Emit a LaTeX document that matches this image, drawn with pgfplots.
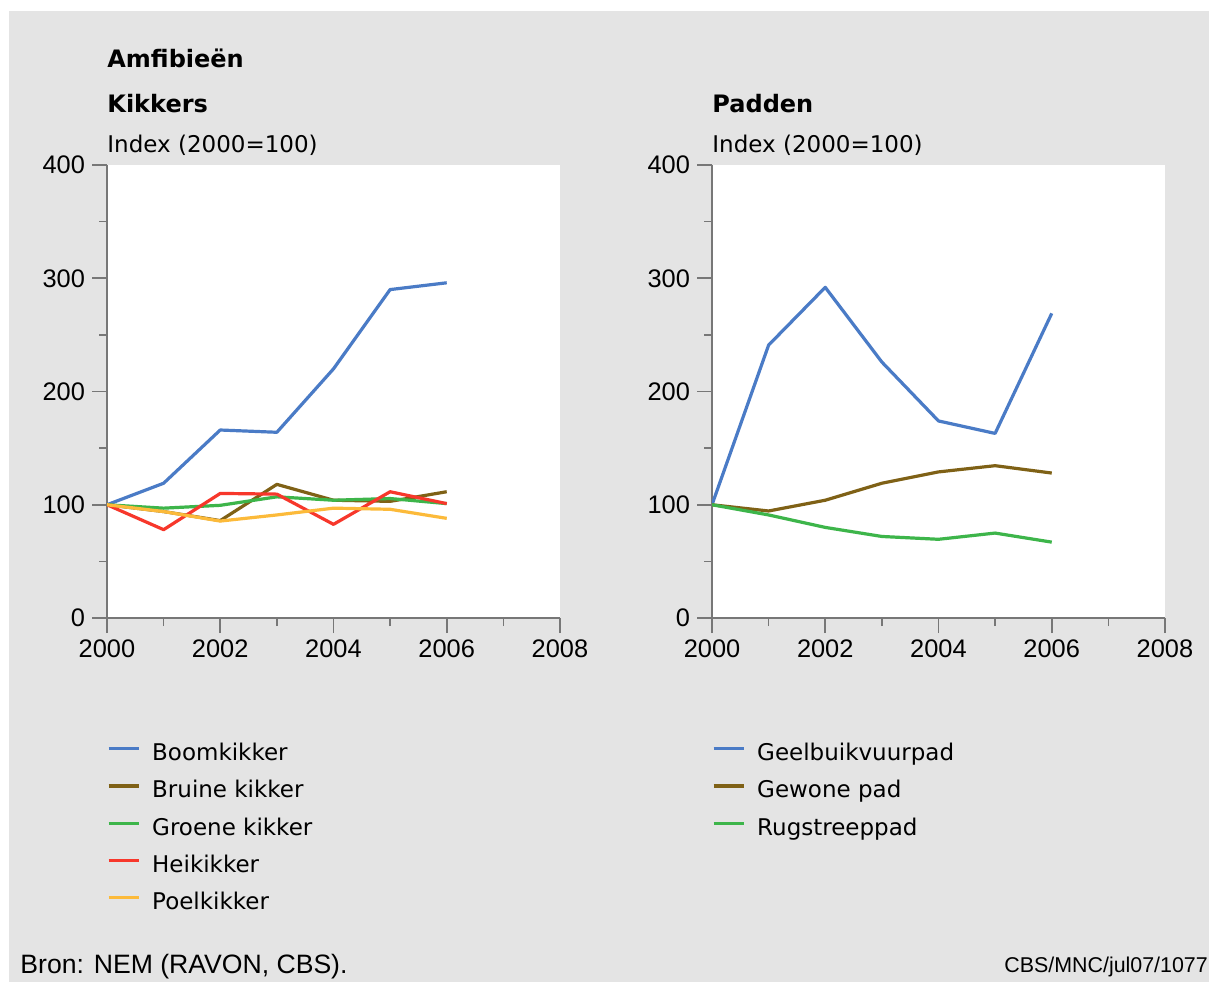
\documentclass[border=0pt]{standalone}
\usepackage{fontspec}
\setmainfont{DejaVu Sans}
\newfontfamily\tickfont{Liberation Sans}
\usepackage{pgfplots}
\pgfplotsset{compat=1.18}
\definecolor{bggray}{HTML}{E4E4E4}
\definecolor{axgray}{HTML}{777777}
\definecolor{cblue}{HTML}{4A7BC6}
\definecolor{cbrown}{HTML}{7F6116}
\definecolor{cgreen}{HTML}{3DB54A}
\definecolor{cred}{HTML}{F7372B}
\definecolor{corange}{HTML}{FCBA3A}
\pgfplotsset{
  amf/.style={
    scale only axis, width=226.5pt, height=226.5pt,
    xmin=2000, xmax=2008, ymin=0, ymax=400,
    xtick={2000,2002,...,2008}, minor xtick={2001,2003,2005,2007},
    ytick={0,100,...,400}, minor ytick={50,150,250,350},
    axis x line*=bottom, axis y line*=left,
    x axis line style={-, draw=axgray, line width=0.8pt},
    y axis line style={-, draw=axgray, line width=0.8pt},
    axis background/.style={fill=white},
    tick align=outside, major tick length=7.5pt, minor tick length=4pt,
    every tick/.style={draw=axgray, line width=0.8pt},
    tick label style={font=\fontsize{12.7}{14}\tickfont},
    /pgf/number format/1000 sep={},
    /pgf/number format/assume math mode=true,
    legend style={draw=none, fill=none, inner sep=0pt, outer sep=0pt,
      font=\fontsize{11.5}{18.9}\selectfont, nodes={inner sep=0pt},
      row sep=3.9pt, column sep=6pt, cells={anchor=west},
      at={(0,-0.2561)}, anchor=north west},
    legend image code/.code={\draw[#1] (0pt,0pt) -- (15pt,0pt);},
    every axis plot/.append style={line width=1.6pt, line join=round},
  }
}
\begin{document}
\begin{tikzpicture}[x=1pt,y=1pt]
\path[use as bounding box] (0,0) rectangle (604.5,491);
\fill[white] (0,0) rectangle (604.5,491);
\fill[bggray] (4.5,0) rectangle (604.5,485.5);

\node[anchor=base west, inner sep=0pt, font=\fontsize{12}{14}\selectfont\bfseries] at (53.5,457) {Amfibieën};
\node[anchor=base west, inner sep=0pt, font=\fontsize{12}{14}\selectfont\bfseries] at (53.5,434.5) {Kikkers};
\node[anchor=base west, inner sep=0pt, font=\fontsize{11.5}{14}\selectfont] at (53.5,414.5) {Index (2000=100)};
\node[anchor=base west, inner sep=0pt, font=\fontsize{12}{14}\selectfont\bfseries] at (356,434.5) {Padden};
\node[anchor=base west, inner sep=0pt, font=\fontsize{11.5}{14}\selectfont] at (356,414.5) {Index (2000=100)};
\node[anchor=base west, inner sep=0pt, font=\fontsize{13.3}{15}\tickfont] at (10,4.5) {Bron: NEM (RAVON, CBS).};
\node[anchor=base west, inner sep=0pt, font=\fontsize{10.7}{12}\tickfont] at (502,5) {CBS/MNC/jul07/1077};

\begin{axis}[amf, at={(53.5pt,182pt)}, anchor=south west]
\addplot[cblue] coordinates {(2000,100) (2001,119) (2002,166) (2003,164) (2004,220) (2005,290) (2006,296)};
\addlegendentry{\strut Boomkikker}
\addplot[cbrown] coordinates {(2000,100) (2001,94) (2002,86) (2003,118) (2004,104) (2005,103) (2006,111.5)};
\addlegendentry{\strut Bruine kikker}
\addplot[cgreen] coordinates {(2000,100) (2001,97) (2002,99.5) (2003,107) (2004,104) (2005,105.5) (2006,101)};
\addlegendentry{\strut Groene kikker}
\addplot[cred] coordinates {(2000,100) (2001,78) (2002,110) (2003,109.4) (2004,82.7) (2005,111.5) (2006,101)};
\addlegendentry{\strut Heikikker}
\addplot[corange] coordinates {(2000,100) (2001,94) (2002,85.6) (2003,91) (2004,97) (2005,96) (2006,88)};
\addlegendentry{\strut Poelkikker}
\end{axis}

\begin{axis}[amf, at={(356pt,182pt)}, anchor=south west]
\addplot[cblue] coordinates {(2000,100) (2001,241) (2002,292) (2003,226) (2004,174) (2005,163) (2006,269)};
\addlegendentry{\strut Geelbuikvuurpad}
\addplot[cbrown] coordinates {(2000,100) (2001,94.5) (2002,104) (2003,119) (2004,129) (2005,134.5) (2006,128)};
\addlegendentry{\strut Gewone pad}
\addplot[cgreen] coordinates {(2000,100) (2001,91) (2002,80) (2003,72) (2004,69.5) (2005,75) (2006,67)};
\addlegendentry{\strut Rugstreeppad}
\end{axis}
\end{tikzpicture}
\end{document}
